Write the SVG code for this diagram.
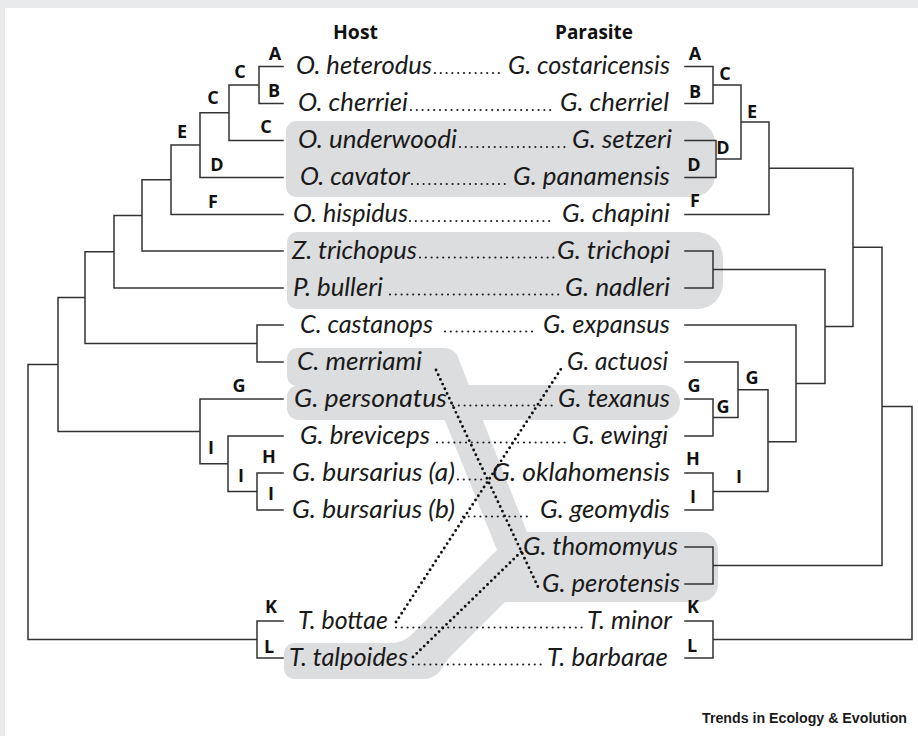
<svg xmlns="http://www.w3.org/2000/svg" width="918" height="736" viewBox="0 0 918 736">
<style>
.sp{font-family:"Lato","Open Sans","Liberation Sans",sans-serif;font-style:italic;font-size:25px;fill:#1a1a1a}
.lbl{font-family:"Open Sans","Liberation Sans",sans-serif;font-weight:bold;font-size:18px;fill:#111;text-anchor:middle}
.hd{font-family:"Open Sans","Liberation Sans",sans-serif;font-weight:bold;font-size:19px;fill:#111}
.tree{fill:none;stroke:#333;stroke-width:1.5;stroke-linecap:square}
.lead{stroke:#222;stroke-width:2.2;stroke-linecap:round;stroke-dasharray:0 5.8}
.cross{stroke:#111;stroke-width:2.9;stroke-linecap:round;stroke-dasharray:0 5.2}
.hl{fill:#dcdddf}
</style>
<rect width="918" height="736" fill="#e9eaec"/>
<rect x="5" y="8" width="913" height="728" fill="#fff"/>

<g id="highlights">
<path class="hl" d="M296,121 H693 A22,22 0 0 1 715,143 V175 A22,22 0 0 1 693,197 H296 A10,10 0 0 1 286,187 V131 A10,10 0 0 1 296,121 Z"/>
<path class="hl" d="M297,232 H697 A26,26 0 0 1 723,258 V283 A26,26 0 0 1 697,309 H297 A10,10 0 0 1 287,299 V242 A10,10 0 0 1 297,232 Z"/>
<path class="hl" d="M297,348 H443 Q456,348 459,360 L527,532 H700 A18,18 0 0 1 718,550 V584 A18,18 0 0 1 700,602 H505 L447,660 Q438,679 424,679 H294 A10,10 0 0 1 284,669 V653 A10,10 0 0 1 294,643 H392 Q402,643 410,636 L497,550 L431,386 H297 A10,10 0 0 1 287,376 V358 A10,10 0 0 1 297,348 Z"/>
<path class="hl" d="M299,385 H662.5 A17.5,17.5 0 0 1 662.5,420 H299 A12,12 0 0 1 287,408 V397 A12,12 0 0 1 299,385 Z"/>
</g>

<g id="headers">
<text class="hd" x="333" y="39" textLength="45" lengthAdjust="spacingAndGlyphs">Host</text>
<text class="hd" x="555" y="39" textLength="78" lengthAdjust="spacingAndGlyphs">Parasite</text>
</g>

<g id="hosts">
<g id="h-heterodus"><text class="sp" x="296" y="74" textLength="136" lengthAdjust="spacingAndGlyphs">O. heterodus</text></g>
<g id="h-cherriei"><text class="sp" x="298" y="111" textLength="110" lengthAdjust="spacingAndGlyphs">O. cherriei</text></g>
<g id="h-underwoodi"><text class="sp" x="298" y="148" textLength="159" lengthAdjust="spacingAndGlyphs">O. underwoodi</text></g>
<g id="h-cavator"><text class="sp" x="300" y="185" textLength="110" lengthAdjust="spacingAndGlyphs">O. cavator</text></g>
<g id="h-hispidus"><text class="sp" x="293" y="222" textLength="115" lengthAdjust="spacingAndGlyphs">O. hispidus</text></g>
<g id="h-trichopus"><text class="sp" x="292" y="258.5" textLength="125" lengthAdjust="spacingAndGlyphs">Z. trichopus</text></g>
<g id="h-bulleri"><text class="sp" x="293" y="295.5" textLength="90" lengthAdjust="spacingAndGlyphs">P. bulleri</text></g>
<g id="h-castanops"><text class="sp" x="300" y="332.5" textLength="133" lengthAdjust="spacingAndGlyphs">C. castanops</text></g>
<g id="h-merriami"><text class="sp" x="297" y="369.5" textLength="125" lengthAdjust="spacingAndGlyphs">C. merriami</text></g>
<g id="h-personatus"><text class="sp" x="294" y="406.5" textLength="153" lengthAdjust="spacingAndGlyphs">G. personatus</text></g>
<g id="h-breviceps"><text class="sp" x="300" y="443.5" textLength="130" lengthAdjust="spacingAndGlyphs">G. breviceps</text></g>
<g id="h-bursarius-a"><text class="sp" x="292" y="480.5" textLength="163" lengthAdjust="spacingAndGlyphs">G. bursarius (a)</text></g>
<g id="h-bursarius-b"><text class="sp" x="292" y="517.5" textLength="163" lengthAdjust="spacingAndGlyphs">G. bursarius (b)</text></g>
<g id="h-bottae"><text class="sp" x="298" y="628.5" textLength="90" lengthAdjust="spacingAndGlyphs">T. bottae</text></g>
<g id="h-talpoides"><text class="sp" x="289" y="665.5" textLength="119" lengthAdjust="spacingAndGlyphs">T. talpoides</text></g>
</g>

<g id="parasites">
<g id="p-costaricensis"><text class="sp" x="508" y="74" textLength="162" lengthAdjust="spacingAndGlyphs">G. costaricensis</text></g>
<g id="p-cherriel"><text class="sp" x="560" y="111" textLength="109" lengthAdjust="spacingAndGlyphs">G. cherriel</text></g>
<g id="p-setzeri"><text class="sp" x="572" y="148" textLength="100" lengthAdjust="spacingAndGlyphs">G. setzeri</text></g>
<g id="p-panamensis"><text class="sp" x="513" y="185" textLength="157" lengthAdjust="spacingAndGlyphs">G. panamensis</text></g>
<g id="p-chapini"><text class="sp" x="562" y="222" textLength="108" lengthAdjust="spacingAndGlyphs">G. chapini</text></g>
<g id="p-trichopi"><text class="sp" x="557" y="258.5" textLength="113" lengthAdjust="spacingAndGlyphs">G. trichopi</text></g>
<g id="p-nadleri"><text class="sp" x="565" y="295.5" textLength="105" lengthAdjust="spacingAndGlyphs">G. nadleri</text></g>
<g id="p-expansus"><text class="sp" x="543" y="332.5" textLength="127" lengthAdjust="spacingAndGlyphs">G. expansus</text></g>
<g id="p-actuosi"><text class="sp" x="567" y="369.5" textLength="101" lengthAdjust="spacingAndGlyphs">G. actuosi</text></g>
<g id="p-texanus"><text class="sp" x="558" y="406.5" textLength="112" lengthAdjust="spacingAndGlyphs">G. texanus</text></g>
<g id="p-ewingi"><text class="sp" x="572" y="443.5" textLength="96" lengthAdjust="spacingAndGlyphs">G. ewingi</text></g>
<g id="p-oklahomensis"><text class="sp" x="492" y="480.5" textLength="178" lengthAdjust="spacingAndGlyphs">G. oklahomensis</text></g>
<g id="p-geomydis"><text class="sp" x="540" y="517.5" textLength="130" lengthAdjust="spacingAndGlyphs">G. geomydis</text></g>
<g id="p-thomomyus"><text class="sp" x="523" y="554.5" textLength="155" lengthAdjust="spacingAndGlyphs">G. thomomyus</text></g>
<g id="p-perotensis"><text class="sp" x="542" y="591.5" textLength="138" lengthAdjust="spacingAndGlyphs">G. perotensis</text></g>
<g id="p-minor"><text class="sp" x="587" y="628.5" textLength="85" lengthAdjust="spacingAndGlyphs">T. minor</text></g>
<g id="p-barbarae"><text class="sp" x="547" y="665.5" textLength="121" lengthAdjust="spacingAndGlyphs">T. barbarae</text></g>
</g>

<g id="connectors">
<path class="tree" d="M283,66.5H259V103.5H283 M259,85H229 M229,85V140.5H283 M229,112.75H200 M200,112.75V177.5H283 M200,145.1H171 M171,145.1V214.5H283 M171,179.8H142 M142,179.8V251H283 M142,215.4H114 M114,215.4V288H283 M114,251.7H85 M283,325H257V362H283 M257,343.5H85 M85,251.7V343.5 M85,297.6H58 M283,473H257V510H283 M257,491.5H228 M228,436H283 M228,436V491.5 M228,463.75H200 M200,399H283 M200,399V463.75 M200,431.4H58 M58,297.6V431.4 M58,364.5H28 M283,621H257V658H283 M257,639.5H28 M28,364.5V639.5"/>
<path class="tree" d="M685,66.5H713V103.5H685 M713,85H741 M685,140.5H716V177.5H685 M716,159H741 M741,85V159 M741,122H769 M685,214.5H769 M769,122V214.5 M769,168.25H853 M685,251H713V288H685 M713,269.5H825 M685,325H796 M796,325V441.75 M685,362H738 M685,399H713V436H685 M713,417.5H738 M738,362V417.5 M738,389.75H768 M685,473H713V510H685 M713,491.5H768 M768,389.75V491.5 M768,441.75H796 M796,383.4H825 M825,269.5V383.4 M825,326.4H853 M853,168.25V326.4 M853,247.3H882 M685,547H713V584H685 M713,565.5H882 M882,247.3V565.5 M882,406.4H912 M685,621H713V658H685 M713,639.5H912 M912,406.4V639.5"/>
<g id="leaders">
<line class="lead" x1="435" y1="73" x2="502" y2="73"/>
<line class="lead" x1="411" y1="110" x2="553" y2="110"/>
<line class="lead" x1="460" y1="147" x2="570" y2="147"/>
<line class="lead" x1="412" y1="184" x2="507" y2="184"/>
<line class="lead" x1="410" y1="221" x2="555" y2="221"/>
<line class="lead" x1="420" y1="257.5" x2="555" y2="257.5"/>
<line class="lead" x1="390" y1="294.5" x2="560" y2="294.5"/>
<line class="lead" x1="445" y1="331.5" x2="537" y2="331.5"/>
<line class="lead" x1="453" y1="405.5" x2="557" y2="405.5"/>
<line class="lead" x1="437" y1="442.5" x2="568" y2="442.5"/>
<line class="lead" x1="458" y1="479.5" x2="486" y2="479.5"/>
<line class="lead" x1="463" y1="516.5" x2="532" y2="516.5"/>
<line class="lead" x1="396" y1="627.5" x2="584" y2="627.5"/>
<line class="lead" x1="413" y1="664.5" x2="542" y2="664.5"/>
</g>
<g id="host-switches">
<line class="cross" x1="436" y1="370" x2="539" y2="589"/>
<line class="cross" x1="396" y1="622" x2="561" y2="369"/>
<line class="cross" x1="413" y1="657" x2="522" y2="551"/>
</g>
</g>

<g id="labels">
<text class="lbl" x="275" y="60">A</text>
<text class="lbl" x="274" y="97">B</text>
<text class="lbl" x="240" y="78">C</text>
<text class="lbl" x="266" y="133">C</text>
<text class="lbl" x="213" y="104">C</text>
<text class="lbl" x="217" y="171">D</text>
<text class="lbl" x="182" y="138">E</text>
<text class="lbl" x="213" y="208">F</text>
<text class="lbl" x="239" y="392">G</text>
<text class="lbl" x="211" y="454">I</text>
<text class="lbl" x="269" y="463">H</text>
<text class="lbl" x="241" y="482">I</text>
<text class="lbl" x="271" y="500">I</text>
<text class="lbl" x="271" y="613">K</text>
<text class="lbl" x="269" y="653">L</text>
<text class="lbl" x="695" y="60">A</text>
<text class="lbl" x="695" y="98">B</text>
<text class="lbl" x="725" y="80">C</text>
<text class="lbl" x="752" y="118">E</text>
<text class="lbl" x="723" y="154">D</text>
<text class="lbl" x="694" y="171">D</text>
<text class="lbl" x="695" y="207">F</text>
<text class="lbl" x="694" y="392">G</text>
<text class="lbl" x="723" y="413">G</text>
<text class="lbl" x="752" y="384">G</text>
<text class="lbl" x="693" y="465">H</text>
<text class="lbl" x="739" y="483">I</text>
<text class="lbl" x="693" y="503">I</text>
<text class="lbl" x="693" y="613">K</text>
<text class="lbl" x="692" y="652">L</text>
</g>

<text x="702" y="723" font-family="Liberation Sans, Arial, sans-serif" font-weight="bold" font-size="14" fill="#1a1a1a" textLength="205" lengthAdjust="spacingAndGlyphs">Trends in Ecology &amp; Evolution</text>
</svg>
